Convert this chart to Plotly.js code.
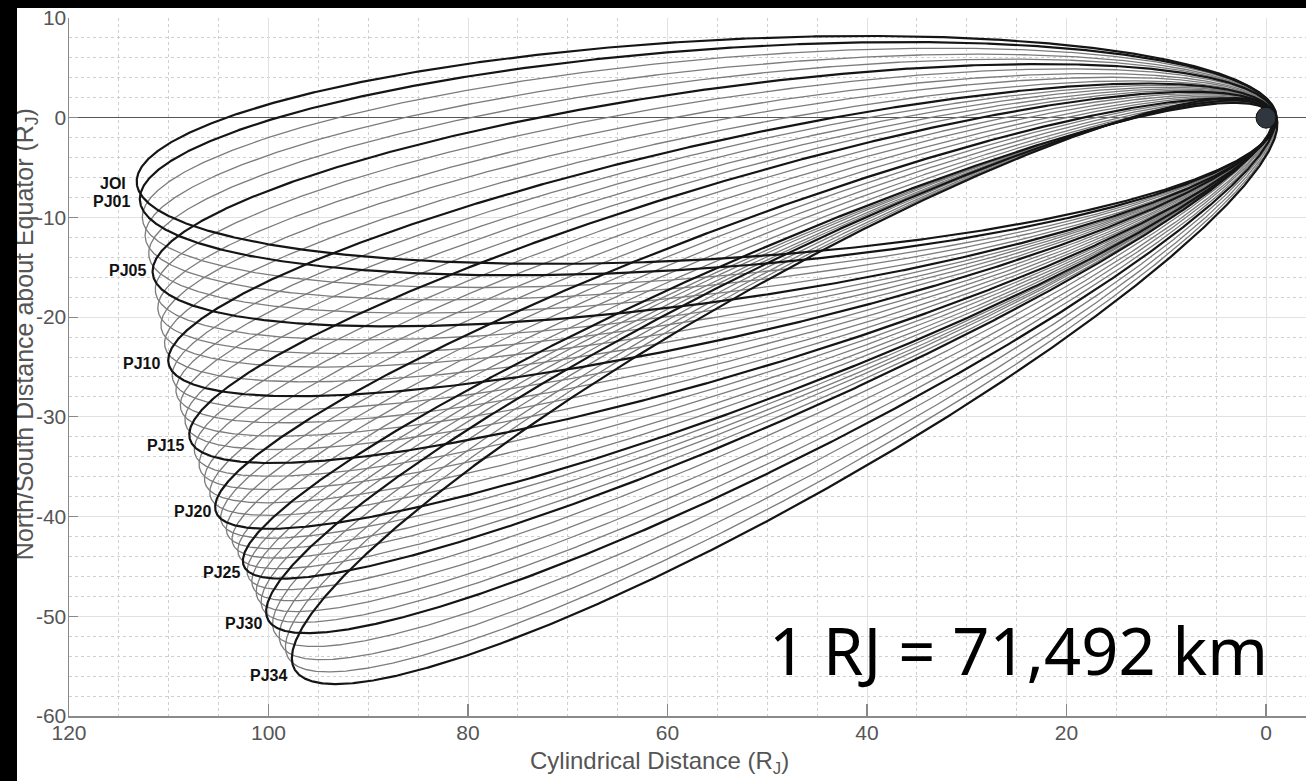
<!DOCTYPE html>
<html>
<head>
<meta charset="utf-8">
<script src="https://cdn.plot.ly/plotly-3.0.1.min.js"></script>
<style>
  html, body { margin: 0; padding: 0; background: #ffffff; }
  #wrap { position: relative; width: 1306px; height: 781px; overflow: hidden; }
  #chart { position: absolute; left: 0; top: 0; width: 1306px; height: 781px; }
  .bar { position: absolute; background: #000; z-index: 10; }
</style>
</head>
<body>
<div id="wrap">
  <div id="chart"></div>
  <div class="bar" style="left:0;top:0;width:1306px;height:8px;"></div>
  <div class="bar" style="left:0;top:0;width:17px;height:781px;"></div>
</div>
<script>
// ---- Data ----
// Orbit names (JOI capture orbit, then perijove passes)
const orbitNames = ['JOI','PJ01','PJ02','PJ03','PJ04','PJ05','PJ06','PJ07','PJ08','PJ09',
  'PJ10','PJ11','PJ12','PJ13','PJ14','PJ15','PJ16','PJ17','PJ18','PJ19',
  'PJ20','PJ21','PJ22','PJ23','PJ24','PJ25','PJ26','PJ27','PJ28','PJ29',
  'PJ30','PJ31','PJ32','PJ33','PJ34'];
// Apojove latitude (deg, negative = south of equator) for each orbit
const apojoveLatDeg = [-3.3,-4.2,-5.15,-6.1,-7.05,-8.0,-8.95,-9.9,-10.8,-11.75,
  -12.65,-13.45,-14.25,-15.05,-15.85,-16.65,-17.45,-18.25,-19.05,-19.8,
  -20.6,-21.2,-21.85,-22.45,-23.1,-23.7,-24.3,-24.9,-25.5,-26.1,
  -26.7,-27.45,-28.2,-28.9,-29.6];
// Apojove distance (R_J) for each orbit
const apojoveDistRj = [113.4,113.2,113.1,113.0,112.85,112.7,112.7,112.75,112.75,112.75,
  112.75,112.7,112.7,112.65,112.6,112.6,112.55,112.55,112.5,112.45,
  112.45,112.3,112.2,112.05,111.95,111.9,111.95,111.95,112.0,112.0,
  112.0,112.0,112.0,112.0,112.0];
// Perijove distance (R_J) for each orbit (sets the width of each orbit)
const perijoveDistRj = [1.06,1.06,1.05,1.03,1.02,1.0,0.97,0.93,0.9,0.87,
  0.85,0.84,0.83,0.82,0.81,0.8,0.78,0.76,0.74,0.72,
  0.7,0.68,0.66,0.64,0.63,0.62,0.65,0.69,0.72,0.76,
  0.8,0.85,0.9,0.95,1.0];
// Orbits drawn in bold and labelled
const boldOrbits = ['JOI','PJ01','PJ05','PJ10','PJ15','PJ20','PJ25','PJ30','PJ34'];
// Axis ticks
const xTickVals = [120,100,80,60,40,20,0];
const xTickText = ['120','100','80','60','40','20','0'];
const yTickVals = [10,0,-10,-20,-30,-40,-50,-60];
const yTickText = ['10','0','-10','-20','-30','-40','-50','-60'];
const scaleNote = '1 RJ = 71,492 km';
const jupiterRadiusRj = 1;

// ---- Build orbit ellipses (Keplerian ellipse, focus at Jupiter) ----
function orbitXY(latDeg, Q, q) {
  const a = (Q + q) / 2;
  const e = (Q - q) / (Q + q);
  const b = a * Math.sqrt(1 - e * e);
  const phi = latDeg * Math.PI / 180;
  // unit vector toward perijove (opposite to apojove)
  const dx = -Math.cos(phi), dy = -Math.sin(phi);
  const nx = -Math.sin(phi), ny = Math.cos(phi);
  const xs = [], ys = [];
  const N = 1400;
  for (let i = 0; i <= N; i++) {
    const E = 2 * Math.PI * i / N;
    const xo = a * (Math.cos(E) - e);
    const yo = b * Math.sin(E);
    xs.push(xo * dx + yo * nx);
    ys.push(xo * dy + yo * ny);
  }
  return {xs, ys};
}

const grayTraces = [], boldTraces = [];
orbitNames.forEach((name, i) => {
  const p = orbitXY(apojoveLatDeg[i], apojoveDistRj[i], perijoveDistRj[i]);
  const isBold = boldOrbits.includes(name);
  const tr = {
    type: 'scatter', mode: 'lines', x: p.xs, y: p.ys, name: name,
    hoverinfo: 'skip', showlegend: false,
    line: isBold ? {color: '#151515', width: 2.2} : {color: '#7c7c7c', width: 1.3}
  };
  (isBold ? boldTraces : grayTraces).push(tr);
});

const labelFont = {family: 'Liberation Sans, Arial, sans-serif', size: 16, color: '#111'};
const labelPos = {
  'JOI': [114.1, -6.6], 'PJ01': [113.7, -8.4], 'PJ05': [112.1, -15.35],
  'PJ10': [110.7, -24.6], 'PJ15': [108.3, -32.9], 'PJ20': [105.6, -39.5],
  'PJ25': [102.7, -45.6], 'PJ30': [100.45, -50.75], 'PJ34': [97.9, -55.9]
};
const annotations = boldOrbits.map(n => ({
  x: labelPos[n][0], y: labelPos[n][1], xref: 'x', yref: 'y',
  text: '<b>' + n + '</b>', showarrow: false, xanchor: 'right', yanchor: 'middle',
  font: labelFont
}));
annotations.push({
  x: 24.81, y: -53.4, xref: 'x', yref: 'y', text: scaleNote, showarrow: false,
  xanchor: 'center', yanchor: 'middle',
  font: {family: 'Noto Sans, sans-serif', size: 65, color: '#000'}
});
annotations.push({
  x: 60.8, y: -0.0673, xref: 'x', yref: 'paper', text: 'Cylindrical Distance (R<sub>J</sub>)',
  showarrow: false, xanchor: 'center', yanchor: 'middle',
  font: {family: 'Liberation Sans, Arial, sans-serif', size: 24, color: '#555'}
});
annotations.push({
  x: -0.0348, y: 0.547, xref: 'paper', yref: 'paper', textangle: -90,
  text: 'North/South Distance about Equator (R<sub>J</sub>)',
  showarrow: false, xanchor: 'center', yanchor: 'middle',
  font: {family: 'Liberation Sans, Arial, sans-serif', size: 25, color: '#555'}
});

const tickFont = {family: 'Liberation Sans, Arial, sans-serif', size: 21, color: '#555'};
const layout = {
  width: 1306, height: 781, autosize: false,
  margin: {l: 69, r: 0, t: 18, b: 65, pad: 0},
  paper_bgcolor: '#ffffff', plot_bgcolor: '#ffffff',
  showlegend: false,
  xaxis: {
    range: [120, -4.01], tickmode: 'array', tickvals: xTickVals, ticktext: xTickText,
    ticks: 'inside', ticklen: 12, tickwidth: 1.2, tickcolor: '#888',
    ticklabelstandoff: -3,
    showline: true, linecolor: '#8a8a8a', linewidth: 1.5,
    showgrid: true, gridcolor: '#e2e2e2', gridwidth: 1,
    minor: {tickmode: 'linear', tick0: 0, dtick: 5, showgrid: true, gridcolor: '#cfcfcf', griddash: 'dot', gridwidth: 1, ticks: ''},
    zeroline: false, tickfont: tickFont, fixedrange: true
  },
  yaxis: {
    range: [-60, 10], tickmode: 'array', tickvals: yTickVals, ticktext: yTickText,
    ticks: 'inside', ticklen: 9, tickwidth: 1.2, tickcolor: '#888',
    ticklabelstandoff: -3,
    showline: true, linecolor: '#8a8a8a', linewidth: 1.5,
    showgrid: true, gridcolor: '#e2e2e2', gridwidth: 1,
    minor: {tickmode: 'linear', tick0: 0, dtick: 2, showgrid: true, gridcolor: '#cfcfcf', griddash: 'dot', gridwidth: 1, ticks: ''},
    zeroline: true, zerolinecolor: '#555', zerolinewidth: 1.5,
    tickfont: tickFont, fixedrange: true
  },
  shapes: [{
    type: 'circle', xref: 'x', yref: 'y',
    x0: -jupiterRadiusRj, x1: jupiterRadiusRj, y0: -1.05 * jupiterRadiusRj, y1: 1.05 * jupiterRadiusRj,
    fillcolor: '#2f363d', line: {color: '#111', width: 1}, layer: 'above'
  }],
  annotations: annotations
};

Plotly.newPlot('chart', grayTraces.concat(boldTraces), layout, {displayModeBar: false, staticPlot: true});
</script>
</body>
</html>
